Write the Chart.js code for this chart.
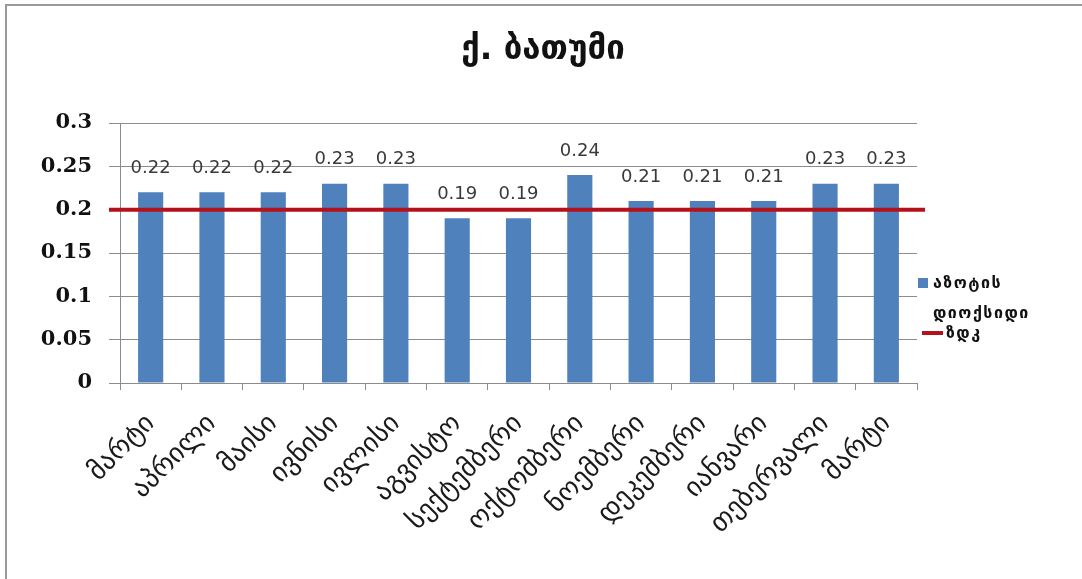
<!DOCTYPE html>
<html>
<head>
<meta charset="utf-8">
<script src="https://cdn.jsdelivr.net/npm/chart.js@4"></script>
<style>
  html, body { margin: 0; padding: 0; background: #fff; }
  #wrap { position: relative; width: 1082px; height: 579px; overflow: hidden; }
  #frame { position: absolute; left: 5px; top: 4px; width: 1120px; height: 620px;
           border-left: 2px solid #9a9a9a; border-top: 2px solid #9a9a9a; box-sizing: border-box; }
  canvas { position: absolute; left: 0; top: 0; }
  #title { position: absolute; left: 0; top: 28px; width: 1086px; text-align: center;
           font-family: "DejaVu Sans", sans-serif; font-weight: bold; font-size: 33px;
           line-height: 40px; color: #111; }
  #legend { position: absolute; left: 918px; top: 268px; font-family: "DejaVu Sans", sans-serif;
            font-weight: bold; font-size: 16px; letter-spacing: 1.5px; color: #111; line-height: 30px; }
  .item { position: relative; padding-left: 15px; }
  .sw-bar { position: absolute; left: 0; top: 10px; width: 10px; height: 10px; }
  .sw-line { position: absolute; left: 4px; top: 13px; width: 21px; height: 4px; }
  .item.line { padding-left: 28px; margin-top: -10px; }
</style>
</head>
<body>
<div id="wrap">
  <div id="frame"></div>
  <canvas id="c" width="1082" height="579"></canvas>
  <div id="title"></div>
  <div id="legend"></div>
</div>
<script>
// Monthly NO2 concentration, Batumi, against the maximum permissible level (ზდკ)
const categories = ['მარტი', 'აპრილი', 'მაისი', 'ივნისი', 'ივლისი', 'აგვისტო', 'სექტემბერი',
                    'ოქტომბერი', 'ნოემბერი', 'დეკემბერი', 'იანვარი', 'თებერვალი', 'მარტი'];
const no2Values = [0.22, 0.22, 0.22, 0.23, 0.23, 0.19, 0.19, 0.24, 0.21, 0.21, 0.21, 0.23, 0.23];
const zdkLevel = 0.2;
const yTicks = [0, 0.05, 0.1, 0.15, 0.2, 0.25, 0.3];
const seriesNames = ['აზოტის დიოქსიდი', 'ზდკ'];
const chartTitle = 'ქ. ბათუმი';

const BAR_COLOR = '#4f81bd';
const LINE_COLOR = '#b3121a';
const GRID_COLOR = '#8c8c8c';

// Writes each bar's value above it
const valueLabels = {
  id: 'valueLabels',
  afterDatasetsDraw(chart) {
    const ctx = chart.ctx;
    const meta = chart.getDatasetMeta(0);
    ctx.save();
    ctx.font = '18px "DejaVu Sans", sans-serif';
    ctx.fillStyle = '#3a3a3a';
    ctx.textAlign = 'center';
    ctx.textBaseline = 'middle';
    meta.data.forEach((bar, i) => {
      ctx.fillText(no2Values[i].toFixed(2), bar.x, bar.y - 24);
    });
    ctx.restore();
  }
};

// Permissible-level line across the whole plot, placed by the y scale
const zdkLine = {
  id: 'zdkLine',
  afterDatasetsDraw(chart) {
    const { ctx, chartArea, scales } = chart;
    const y = scales.y.getPixelForValue(zdkLevel);
    ctx.save();
    ctx.strokeStyle = LINE_COLOR;
    ctx.lineWidth = 4;
    ctx.beginPath();
    ctx.moveTo(chartArea.left - 11, y);
    ctx.lineTo(chartArea.right + 8, y);
    ctx.stroke();
    ctx.restore();
  }
};

new Chart(document.getElementById('c'), {
  type: 'bar',
  data: {
    labels: categories,
    datasets: [
      {
        label: seriesNames[0],
        data: no2Values,
        backgroundColor: BAR_COLOR,
        barPercentage: 0.41,
        categoryPercentage: 1.0,
        grouped: false
      }
    ]
  },
  options: {
    responsive: false,
    animation: false,
    layout: { padding: { left: 6, right: 165, top: 123, bottom: 0 } },
    plugins: {
      legend: { display: false },
      tooltip: { enabled: false },
      title: { display: false }
    },
    scales: {
      x: {
        offset: true,
        grid: { offset: true, drawOnChartArea: false, color: GRID_COLOR, tickLength: 7 },
        border: { color: GRID_COLOR, width: 1 },
        ticks: {
          color: '#1a1a1a',
          font: { family: '"DejaVu Sans", sans-serif', size: 27 },
          minRotation: 45, maxRotation: 45, padding: 18, autoSkip: false
        },
        afterFit(scale) { scale.height = 196; }
      },
      y: {
        min: 0,
        max: 0.3,
        afterBuildTicks(scale) { scale.ticks = yTicks.map(v => ({ value: v })); },
        grid: { color: GRID_COLOR, tickLength: 11 },
        border: { color: GRID_COLOR, width: 1 },
        ticks: {
          color: '#111',
          padding: 17,
          font: { family: '"DejaVu Serif", serif', size: 21, weight: 'bold' },
          callback: v => String(v)
        },
        afterFit(scale) { scale.width = 114; }
      }
    }
  },
  plugins: [valueLabels, zdkLine]
});

document.getElementById('title').textContent = chartTitle;

// Legend beside the plot
const legend = document.getElementById('legend');
const barItem = document.createElement('div');
barItem.className = 'item';
barItem.innerHTML = '<span class="sw-bar" style="background:' + BAR_COLOR + '"></span>' +
  seriesNames[0].replace(' ', '<br>');
const lineItem = document.createElement('div');
lineItem.className = 'item line';
lineItem.innerHTML = '<span class="sw-line" style="background:' + LINE_COLOR + '"></span>' + seriesNames[1];
legend.appendChild(barItem);
legend.appendChild(lineItem);
</script>
</body>
</html>
